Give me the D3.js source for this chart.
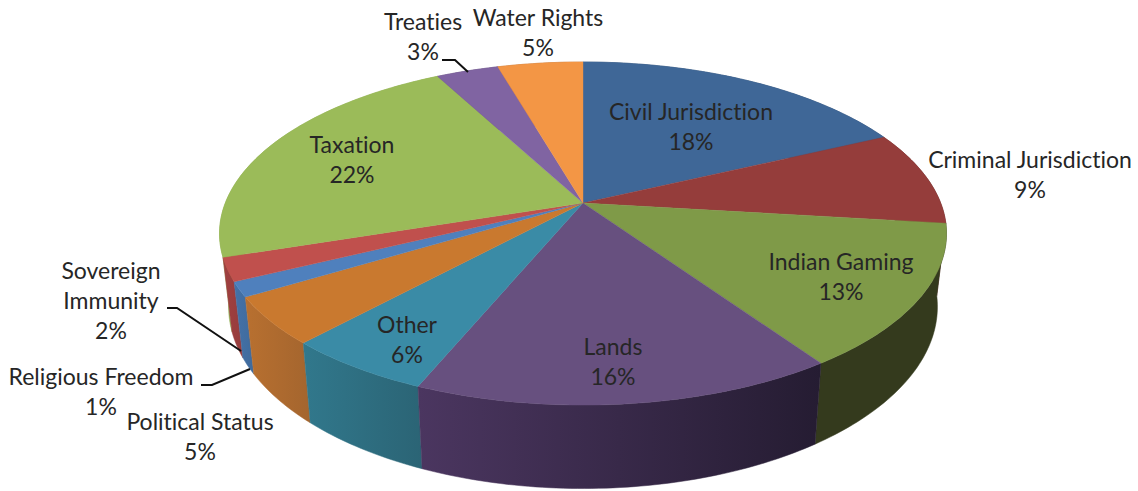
<!DOCTYPE html>
<html>
<head>
<meta charset="utf-8">
<script src="https://cdn.jsdelivr.net/npm/d3@7/dist/d3.min.js"></script>
<style>
html,body{margin:0;padding:0;background:#fff;overflow:hidden}
text{font-family:Lato,"Open Sans",sans-serif;font-size:23px;fill:#262626;text-anchor:middle;font-variant-ligatures:none}
</style>
</head>
<body>
<svg id="c" width="1138" height="491"></svg>
<script>
// Data, clockwise from twelve o'clock
const categories = ["Civil Jurisdiction","Criminal Jurisdiction","Indian Gaming","Lands","Other","Political Status","Religious Freedom","Sovereign Immunity","Taxation","Treaties","Water Rights"];
const shares = [18,8.9,13.49,15.91,5.6,4.5,1.4,2.2,22.2,3.3,4.5];

// Styles
const topColors  = ["#3F6797","#953D3B","#7F9A48","#67507F","#3A8BA6","#C9792F","#4F80BD","#C0504D","#9BBB59","#8064A2","#F39645"];
const sideLeft   = ["#2F4D72","#6E2D2C","#343A1D","#4B3660","#31788C","#B87030","#4472A8","#A04040","#8FAD52","#604B7A","#B87035"];
const sideRight  = ["#2F4D72","#5E2726","#343A1D","#251C32","#2B6475","#A4652E","#3F6A9C","#963C3C","#8FAD52","#604B7A","#B87035"];

// Label layout: name lines, centre x, first baseline y
const labelLines = [["Civil Jurisdiction"],["Criminal Jurisdiction"],["Indian Gaming"],["Lands"],["Other"],["Political Status"],["Religious Freedom"],["Sovereign","Immunity"],["Taxation"],["Treaties"],["Water Rights"]];
const labelX = [691,1030,841,613,407,200,101,111,352,423,538];
const labelY = [120,168,270,355,333,430,385,279,153,30,26];
const lineStep = 30;
const leaders = [
  [[167,308],[177,308],[241,351]],
  [[201,385],[212,385],[250,369]],
  [[442,60],[455,60],[468,72]]
];

// Perspective projection of the unit disc
const cx = 583, apexY = 203, persp = -0.178, scaleY = 130, scaleX = 357.7;
const rimInset = 0.975, rimDepth = 77, rimGrow = 0.06, rimRef = 298;
function topPoint(t){
  const u = Math.sin(t), v = -Math.cos(t), den = 1 + persp*v;
  return [cx + scaleX*u/den, (scaleY*v + apexY)/den];
}
function rimPoint(t){
  const p = topPoint(t);
  return [cx + rimInset*(p[0]-cx), p[1] + rimDepth + rimGrow*(p[1]-rimRef)];
}

const svg = d3.select("#c");
const defs = svg.append("defs");
const line = d3.line();
const pie = d3.pie().sort(null).value(d=>d)(shares);

function arcSamples(d){
  const n = Math.max(8, Math.ceil((d.endAngle-d.startAngle)*60));
  return d3.range(n+1).map(i=>d.startAngle+(d.endAngle-d.startAngle)*i/n);
}

// Sides, back to front
const order = pie.map((d,i)=>i).sort((a,b)=>{
  const m = d=>-Math.cos((d.startAngle+d.endAngle)/2);
  return m(pie[a])-m(pie[b]);
});
order.forEach(i=>{
  const d = pie[i], ts = arcSamples(d);
  const topPts = ts.map(topPoint), rimPts = ts.map(rimPoint).reverse();
  const xs = topPts.concat(rimPts).map(p=>p[0]);
  const g = defs.append("linearGradient").attr("id","side"+i)
    .attr("gradientUnits","userSpaceOnUse")
    .attr("x1",d3.min(xs)).attr("x2",d3.max(xs)).attr("y1",0).attr("y2",0);
  g.append("stop").attr("offset",0).attr("stop-color",sideLeft[i]);
  g.append("stop").attr("offset",1).attr("stop-color",sideRight[i]);
  svg.append("path").attr("d",line(topPts.concat(rimPts))+"Z")
    .attr("fill","url(#side"+i+")").attr("fill-rule","nonzero")
    .attr("stroke","url(#side"+i+")").attr("stroke-width",0.5);
});

// Top faces
pie.forEach((d,i)=>{
  const pts = [[cx,apexY]].concat(arcSamples(d).map(topPoint));
  svg.append("path").attr("d",line(pts)+"Z").attr("fill",topColors[i])
    .attr("stroke",topColors[i]).attr("stroke-width",0.4);
});

// Leader lines
leaders.forEach(l=>{
  svg.append("path").attr("d",line(l)).attr("fill","none")
    .attr("stroke","#111").attr("stroke-width",2);
});

// Labels
categories.forEach((c,i)=>{
  const t = svg.append("text");
  const rows = labelLines[i].concat([Math.round(shares[i])+"%"]);
  rows.forEach((r,k)=>{
    t.append("tspan").attr("x",labelX[i]).attr("y",labelY[i]+k*lineStep).text(r);
  });
});
</script>
</body>
</html>
